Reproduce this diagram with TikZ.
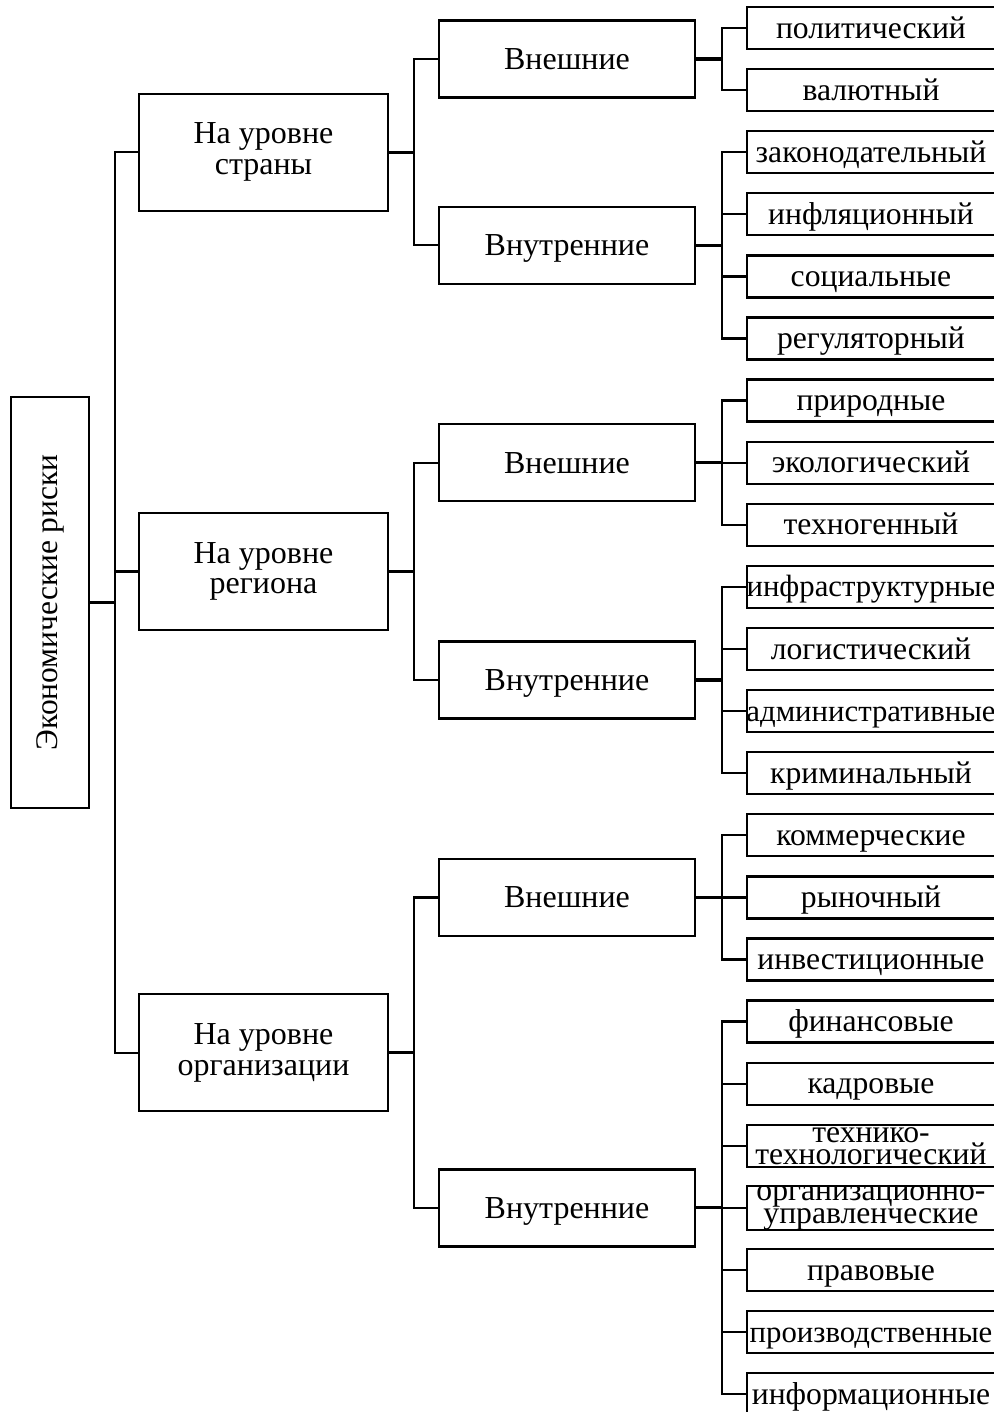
\documentclass[tikz,border=0pt]{standalone}
\usepackage{fontspec}
\setmainfont{Liberation Serif}
\newcommand\lfx[1]{\makebox[2.40cm]{#1}}
\newcommand\lfw[1]{\makebox[2.40cm]{\fontsize{8.75pt}{8.8pt}\selectfont #1}}
\begin{document}
\begin{tikzpicture}[x=0.01cm,y=-0.01cm,
  box/.style={draw, line width=0.65pt, inner sep=0pt, align=center, font=\fontsize{9.1pt}{8.8pt}\selectfont},
  rootbox/.style={box, minimum width=0.78cm, minimum height=4.11cm},
  lvone/.style={box, minimum width=2.49cm, minimum height=1.17cm},
  lvtwo/.style={box, minimum width=2.56cm, minimum height=0.77cm, text height=0.28cm, text depth=0.07cm},
  leaf/.style={box, inner xsep=0.04cm, text width=2.40cm, minimum height=0.42cm, text height=0.27cm, text depth=0.07cm, font=\fontsize{9.0pt}{8.8pt}\selectfont},
  twoline/.style={text height={}, text depth={}, font=\fontsize{9.0pt}{6.3pt}\selectfont},
  conn/.style={line width=0.65pt},
  stub/.style={line width=0.9pt}]
\useasboundingbox (0,0) rectangle (994,1412);
\clip (0,0) rectangle (994,1412);

% root
\node[rootbox] (root) at (50,602.4) {};
\node[rotate=90, font=\fontsize{8.95pt}{8.8pt}\selectfont] (roottext) at (root.center) {Экономические риски};

% level 1
\node[lvone] (c1) at (263.5,152.2) {На уровне\\страны};
\node[lvone] (c2) at (263.5,571.4) {На уровне\\региона};
\node[lvone] (c3) at (263.5,1052.65) {На уровне\\организации};

% level 2
\node[lvtwo] (a) at (567,59.05) {Внешние};
\node[lvtwo] (b) at (567,245.35) {Внутренние};
\node[lvtwo] (c) at (567,462.7) {Внешние};
\node[lvtwo] (d) at (567,680.05) {Внутренние};
\node[lvtwo] (e) at (567,897.4) {Внешние};
\node[lvtwo] (f) at (567,1207.9) {Внутренние};

% leaves
\node[leaf] (l1) at (871,28) {\lfx{политический}};
\node[leaf] (l2) at (871,90.1) {\lfx{валютный}};
\node[leaf] (l3) at (871,152.2) {\lfx{законодательный}};
\node[leaf] (l4) at (871,214.3) {\lfx{инфляционный}};
\node[leaf] (l5) at (871,276.4) {\lfx{социальные}};
\node[leaf] (l6) at (871,338.5) {\lfx{регуляторный}};
\node[leaf] (l7) at (871,400.6) {\lfx{природные}};
\node[leaf] (l8) at (871,462.7) {\lfx{экологический}};
\node[leaf] (l9) at (871,524.8) {\lfx{техногенный}};
\node[leaf] (l10) at (871,586.9) {\lfw{инфраструктурные}};
\node[leaf] (l11) at (871,649.0) {\lfx{логистический}};
\node[leaf] (l12) at (871,711.1) {\lfw{административные}};
\node[leaf] (l13) at (871,773.2) {\lfx{криминальный}};
\node[leaf] (l14) at (871,835.3) {\lfx{коммерческие}};
\node[leaf] (l15) at (871,897.4) {\lfx{рыночный}};
\node[leaf] (l16) at (871,959.5) {\lfx{инвестиционные}};
\node[leaf] (l17) at (871,1021.6) {\lfx{финансовые}};
\node[leaf] (l18) at (871,1083.7) {\lfx{кадровые}};
\node[leaf, twoline] (l19) at (871,1145.8) {технико-\\технологический};
\node[leaf, twoline] (l20) at (871,1207.9) {организационно-\\управленческие};
\node[leaf] (l21) at (871,1270.0) {\lfx{правовые}};
\node[leaf] (l22) at (871,1332.1) {\lfw{производственные}};
\node[leaf] (l23) at (871,1394.2) {\lfx{информационные}};

% root connectors
\draw[stub] (root.east) -- ++(25,0);
\foreach \n in {c1,c2,c3} \draw[conn] (root.east) ++(25,0) |- (\n.west);

% level 1 connectors
\draw[stub] (c1.east) -- ++(25,0);
\draw[stub] (c2.east) -- ++(25,0);
\draw[stub] (c3.east) -- ++(25,0);
\foreach \n in {a,b} \draw[conn] (c1.east) ++(25,0) |- (\n.west);
\foreach \n in {c,d} \draw[conn] (c2.east) ++(25,0) |- (\n.west);
\foreach \n in {e,f} \draw[conn] (c3.east) ++(25,0) |- (\n.west);

% level 2 connectors
\foreach \p in {a,b,c,d,e,f} \draw[stub] (\p.east) -- ++(25.5,0);
\foreach \n in {l1,l2} \draw[conn] (a.east) ++(25.5,0) |- (\n.west);
\foreach \n in {l3,l4,l5,l6} \draw[conn] (b.east) ++(25.5,0) |- (\n.west);
\foreach \n in {l7,l8,l9} \draw[conn] (c.east) ++(25.5,0) |- (\n.west);
\foreach \n in {l10,l11,l12,l13} \draw[conn] (d.east) ++(25.5,0) |- (\n.west);
\foreach \n in {l14,l15,l16} \draw[conn] (e.east) ++(25.5,0) |- (\n.west);
\foreach \n in {l17,l18,l19,l20,l21,l22,l23} \draw[conn] (f.east) ++(25.5,0) |- (\n.west);
\end{tikzpicture}
\end{document}
